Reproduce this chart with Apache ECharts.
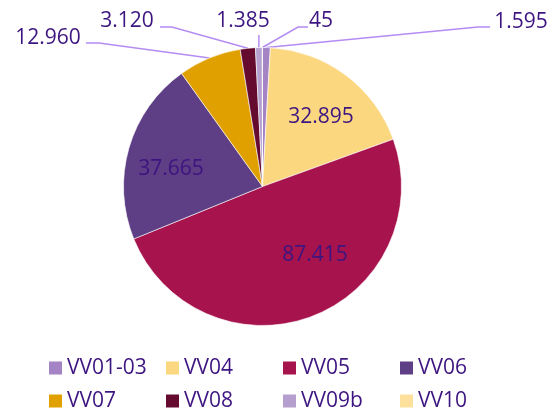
<!DOCTYPE html>
<html>
<head>
<meta charset="utf-8">
<script src="https://cdn.jsdelivr.net/npm/echarts@6/dist/echarts.min.js"></script>
<style>
  html, body { margin: 0; padding: 0; background: #fff; }
  #main { width: 551px; height: 409px; }
</style>
</head>
<body>
<div id="main"></div>
<script>
var categories = ['VV01-03', 'VV04', 'VV05', 'VV06', 'VV07', 'VV08', 'VV09b', 'VV10'];
var values = [1595, 32895, 87415, 37665, 12960, 3120, 1385, 45];
var colors = ['#A484C4', '#FBD780', '#A6134D', '#5E3E84', '#E0A100', '#650B30', '#B49FCE', '#FCE09C'];
var insideLabels = ['VV04', 'VV05', 'VV06'];

var textColor = '#3D1580';
var lineColor = '#B48CF3';

// where Excel put each label (centre of text) and the bend of its leader line
var labelSpots = {
  'VV01-03': { x: 521, y: 22, line: [[478, 27], [490, 27]] },
  'VV04': { x: 321, y: 117 },
  'VV05': { x: 315, y: 255 },
  'VV06': { x: 171, y: 169 },
  'VV07': { x: 48, y: 38, line: [[99, 43], [86, 43]] },
  'VV08': { x: 127, y: 21, line: [[172, 27], [160, 27]] },
  'VV09b': { x: 243, y: 21, vertical: 35 },
  'VV10': { x: 321, y: 21, line: [[298, 27], [308, 27]] }
};

function fmt(v) {
  return String(v).replace(/\B(?=(\d{3})+(?!\d))/g, '.');
}

var chartDom = document.getElementById('main');
var myChart = echarts.init(chartDom, null, { renderer: 'canvas' });

var pieData = categories.map(function (name, i) {
  var inside = insideLabels.indexOf(name) >= 0;
  return {
    name: name,
    value: values[i],
    itemStyle: { color: colors[i] },
    labelLine: { show: !inside }
  };
});

function legendRow(names, top) {
  return {
    left: 44,
    top: top,
    itemWidth: 13,
    itemHeight: 13,
    itemGap: 10,
    icon: 'rect',
    itemStyle: { borderWidth: 0 },
    data: names,
    formatter: '{a|{name}}',
    textStyle: {
      color: textColor,
      fontFamily: 'Open Sans',
      fontSize: 21,
      lineHeight: 26,
      rich: {
        a: { width: 89, lineHeight: 26, fontSize: 21, color: textColor, fontFamily: 'Open Sans' }
      }
    }
  };
}

var option = {
  animation: false,
  textStyle: { fontFamily: 'Open Sans' },
  legend: [
    legendRow(categories.slice(0, 4), 350),
    legendRow(categories.slice(4), 383)
  ],
  series: [{
    type: 'pie',
    center: [262.5, 186.5],
    radius: 139,
    startAngle: 90,
    clockwise: true,
    avoidLabelOverlap: false,
    itemStyle: { borderColor: '#ffffff', borderWidth: 0.6 },
    emphasis: { disabled: true },
    label: {
      show: true,
      position: 'outside',
      color: textColor,
      fontFamily: 'Open Sans',
      fontSize: 21,
      formatter: function (p) { return fmt(p.value); }
    },
    labelLine: {
      show: true,
      length: 10,
      length2: 10,
      lineStyle: { color: lineColor, width: 1.5 }
    },
    labelLayout: function (params) {
      var name = categories[params.dataIndex];
      var s = labelSpots[name];
      var out = { x: s.x, y: s.y, align: 'center', verticalAlign: 'middle' };
      var pts = params.labelLinePoints;
      if (pts && pts.length) {
        var p0 = pts[0];
        if (s.vertical != null) {
          out.labelLinePoints = [p0, [p0[0], s.vertical], [p0[0], s.vertical]];
        } else if (s.line) {
          out.labelLinePoints = [p0, s.line[0], s.line[1]];
        }
      }
      return out;
    },
    data: pieData
  }]
};

myChart.setOption(option);
window.addEventListener('resize', function () {
  myChart.resize();
});
</script>
</body>
</html>
